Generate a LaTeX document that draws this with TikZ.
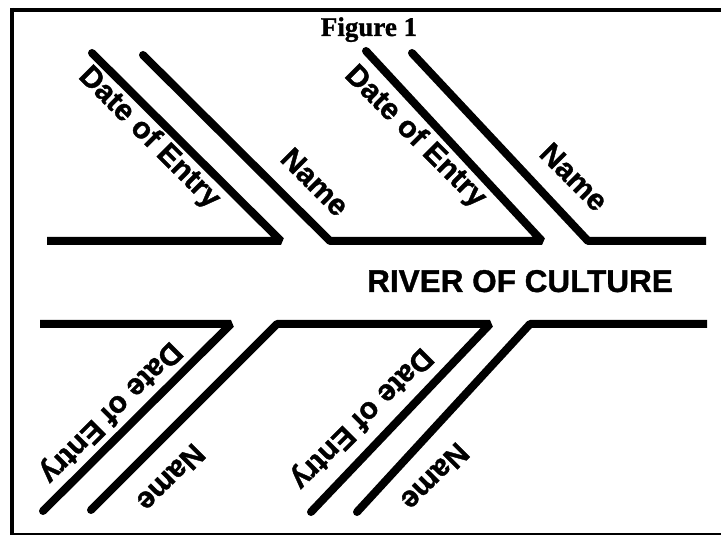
\documentclass[tikz,border=0pt]{standalone}
\usepackage{fontspec}
\setmainfont{Liberation Serif}
\newfontfamily\labfont{Liberation Sans Bold}[FakeBold=1.2]
\newfontfamily\titlefont{Liberation Serif Bold}[FakeBold=1.2]
\begin{document}
\begin{tikzpicture}[x=1pt,y=-1pt,
  bone/.style={line width=8pt, line cap=butt, line join=bevel},
  lab/.style={font=\labfont\fontsize{30}{36}\selectfont, inner sep=0pt}]
\useasboundingbox (0,0) rectangle (721,537);
\fill[white] (0,0) rectangle (721,537);
% frame
\draw[line width=4pt] (721,10) -- (10,10);
\draw[line width=4.5pt] (12,8) -- (12,535);
\draw[line width=2.5pt] (10,534) -- (721,534);
% top bones
\coordinate (t0) at (47,241);
\coordinate (c1) at (281,241);
\coordinate (d1) at (92,53);
\coordinate (n1) at (143,55);
\coordinate (c2) at (330,241);
\coordinate (c3) at (542,241);
\coordinate (d2) at (366,51);
\coordinate (n2) at (412,53);
\coordinate (c4) at (588,241);
\coordinate (t1) at (706,241);
% bottom bones
\coordinate (b0) at (40,324);
\coordinate (c5) at (231,324);
\coordinate (d3) at (43,511);
\coordinate (n3) at (91,510);
\coordinate (c6) at (277,324);
\coordinate (c7) at (490,324);
\coordinate (d4) at (311,512);
\coordinate (n4) at (357,512);
\coordinate (c8) at (530,324);
\coordinate (b1) at (707,324);
\draw[bone] (t0) -- (c1) -- (d1);
\draw[bone] (n1) -- (c2) -- (c3) -- (d2);
\draw[bone] (n2) -- (c4) -- (t1);
\draw[bone] (b0) -- (c5) -- (d3);
\draw[bone] (n3) -- (c6) -- (c7) -- (d4);
\draw[bone] (n4) -- (c8) -- (b1);
\foreach \p in {d1,n1,d2,n2,d3,n3,d4,n4} \fill (\p) circle (4pt);
% labels
\node[lab, rotate=-45] (l1) at (149,138) {Date of Entry};
\node[lab, rotate=-45] (l2) at (315,182) {Name};
\node[lab, rotate=-45] (l3) at (415,137) {Date of Entry};
\node[lab, rotate=-45] (l4) at (574,177) {Name};
\node[lab, rotate=225] (l5) at (110,412) {Date of Entry};
\node[lab, rotate=225] (l6) at (171,478) {Name};
\node[lab, rotate=225] (l7) at (361,418) {Date of Entry};
\node[lab, rotate=225] (l8) at (435,477) {Name};
\node[font=\titlefont\fontsize{27}{30}\selectfont, anchor=base, inner sep=0pt] (fig) at (369,36) {Figure 1};
\node[font=\labfont\fontsize{31.5}{36}\selectfont, anchor=base, inner sep=0pt] (river) at (520,292) {RIVER OF CULTURE};
\end{tikzpicture}
\end{document}
